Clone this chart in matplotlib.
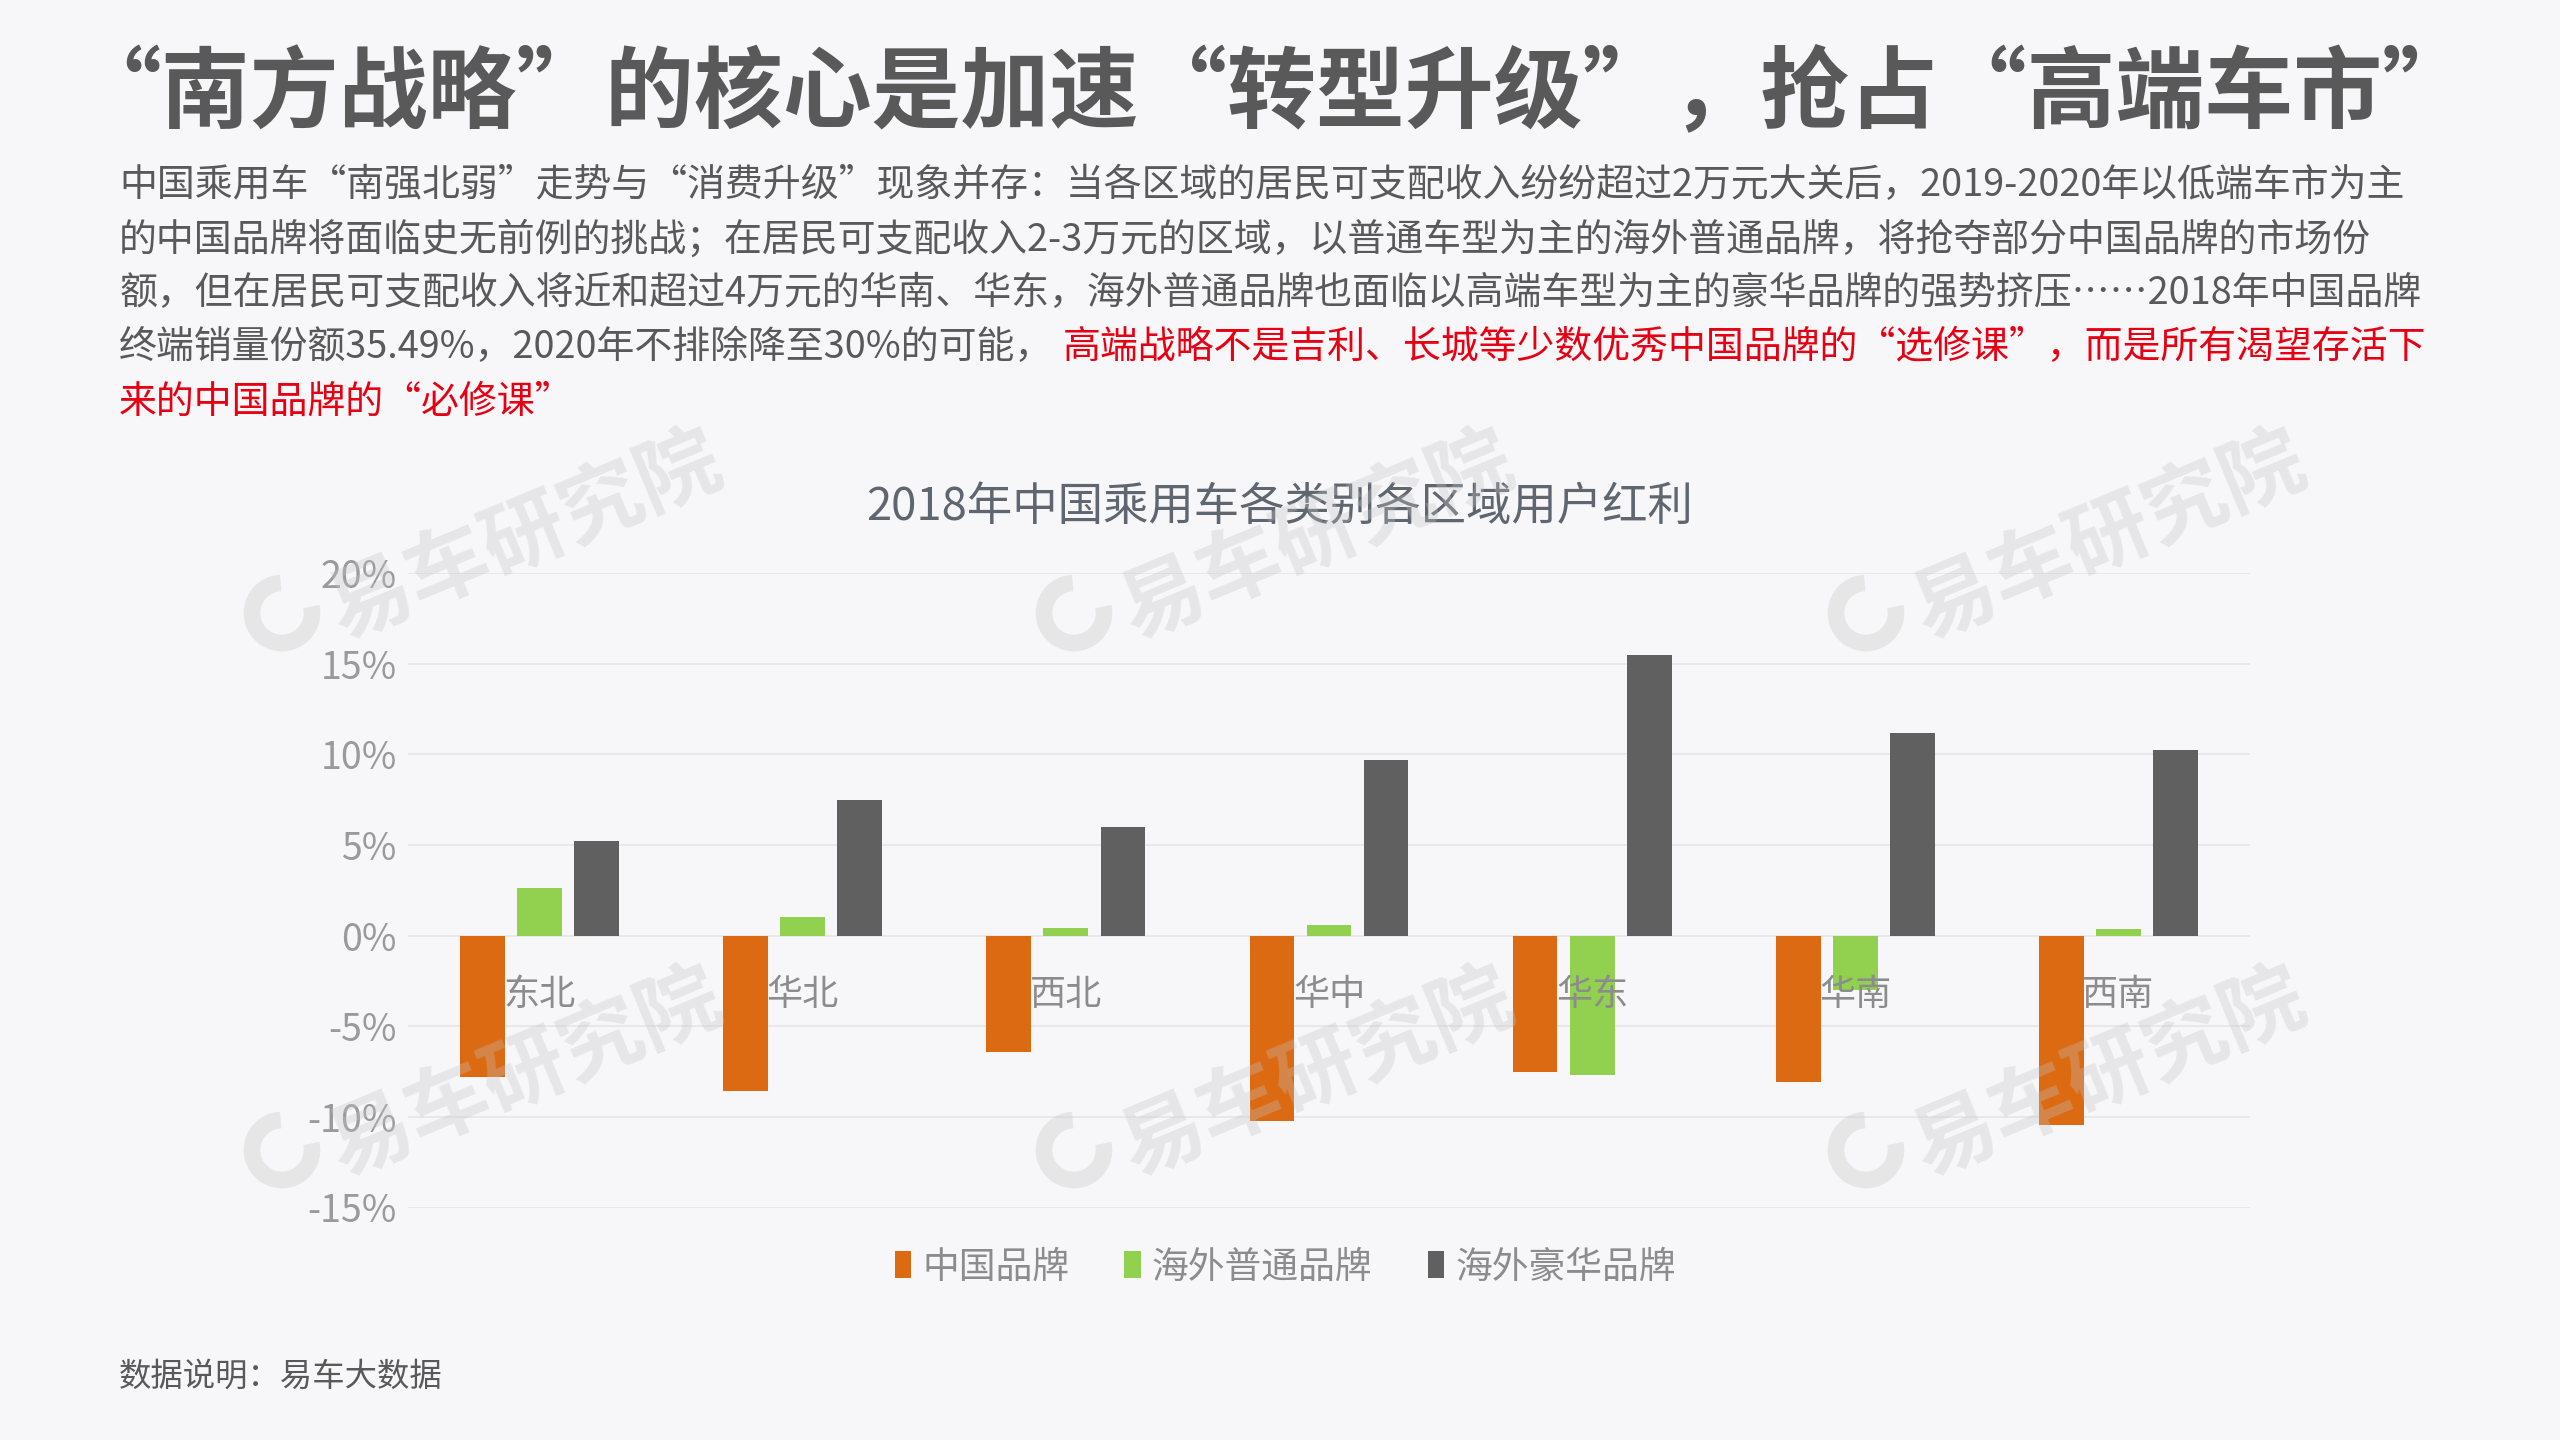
import numpy as np
import matplotlib
matplotlib.use("Agg")
import matplotlib.pyplot as plt
from matplotlib.patches import Arc
from matplotlib.ticker import FuncFormatter

plt.rcParams['font.family'] = ['Noto Sans CJK SC', 'DejaVu Sans']

# ---------------- data ----------------
regions = ['东北', '华北', '西北', '华中', '华东', '华南', '西南']
china_brand = [-7.8, -8.55, -6.4, -10.25, -7.55, -8.05, -10.45]
overseas_regular = [2.6, 1.05, 0.42, 0.58, -7.7, -3.0, 0.35]
overseas_luxury = [5.2, 7.5, 6.0, 9.7, 15.45, 11.2, 10.25]
series_names = ['中国品牌', '海外普通品牌', '海外豪华品牌']
y_ticks = [-15, -10, -5, 0, 5, 10, 15, 20]

title = '“南方战略”的核心是加速“转型升级”，抢占“高端车市”'
body_lines = [
    '中国乘用车“南强北弱”走势与“消费升级”现象并存：当各区域的居民可支配收入纷纷超过2万元大关后，2019-2020年以低端车市为主',
    '的中国品牌将面临史无前例的挑战；在居民可支配收入2-3万元的区域，以普通车型为主的海外普通品牌，将抢夺部分中国品牌的市场份',
    '额，但在居民可支配收入将近和超过4万元的华南、华东，海外普通品牌也面临以高端车型为主的豪华品牌的强势挤压……2018年中国品牌',
]
line4_gray = '终端销量份额35.49%，2020年不排除降至30%的可能，'
line4_red = '高端战略不是吉利、长城等少数优秀中国品牌的“选修课”，而是所有渴望存活下'
line5_red = '来的中国品牌的“必修课”'
chart_title = '2018年中国乘用车各类别各区域用户红利'
footer = '数据说明：易车大数据'
watermark = '易车研究院'

# ---------------- style ----------------
BG = '#f7f7f9'
C_ORANGE = '#dc6a12'
C_GREEN = '#92d050'
C_GRAY = '#606060'
TXT = '#595959'
RED = '#e60012'
W, H = 2560, 1440

fig = plt.figure(figsize=(W / 100, H / 100), dpi=100, facecolor=BG)

def fx(px):
    return px / W

def fy(py):
    return 1 - py / H

# headline
fig.text(fx(72), fy(94), title, fontsize=64, fontweight='bold', color=TXT,
         ha='left', va='center')

# body text
body_fs = 27.3
line_y = [186, 240, 294, 348, 402]
for txt, yy in zip(body_lines, line_y[:3]):
    fig.text(fx(119), fy(yy), txt, fontsize=body_fs, color=TXT, ha='left', va='center')
t4 = fig.text(fx(119), fy(line_y[3]), line4_gray, fontsize=body_fs, color=TXT,
              ha='left', va='center')
renderer = fig.canvas.get_renderer()
bb = t4.get_window_extent(renderer=renderer)
fig.text((bb.x1 + 10) / W, fy(line_y[3]), line4_red, fontsize=body_fs, color=RED,
         ha='left', va='center')
fig.text(fx(119), fy(line_y[4]), line5_red, fontsize=body_fs, color=RED,
         ha='left', va='center')

# footer
fig.text(fx(119), fy(1377), footer, fontsize=23.3, color=TXT, ha='left', va='center')

# chart title
fig.text(0.5, fy(507), chart_title, fontsize=32.7, color='#5f6670', ha='center', va='center')

# ---------------- chart ----------------
left, right, top, bottom = 408, 2250, 573, 1207.5
ax = fig.add_axes([fx(left), fy(bottom), (right - left) / W, (bottom - top) / H])
ax.set_facecolor('none')

x = np.arange(len(regions))
bw = 0.17
step = 0.217
series = [china_brand, overseas_regular, overseas_luxury]
colors = [C_ORANGE, C_GREEN, C_GRAY]
for i, (vals, col, name) in enumerate(zip(series, colors, series_names)):
    ax.bar(x + (i - 1) * step, vals, width=bw, color=col, label=name, zorder=2,
           edgecolor='none')

ax.set_ylim(y_ticks[0], y_ticks[-1])
ax.set_xlim(-0.5, len(regions) - 0.5)
ax.set_yticks(y_ticks)
ax.yaxis.set_major_formatter(FuncFormatter(lambda v, p: f'{int(v)}%'))
ax.yaxis.grid(True, color='#e6e6e8', linewidth=1.2)
ax.set_axisbelow(True)
for s in ['left', 'right', 'top']:
    ax.spines[s].set_visible(False)
ax.spines['bottom'].set_position(('data', 0))
ax.spines['bottom'].set_color('none')
ax.set_xticks(x)
ax.set_xticklabels(regions)
ax.tick_params(axis='x', length=0, pad=30, labelsize=26, labelcolor='#8c8c8c')
ax.tick_params(axis='y', length=0, pad=8, labelsize=27, labelcolor='#9a9a9a')
ax.xaxis.set_zorder(5)

# legend
handles, labels = ax.get_legend_handles_labels()
leg = fig.legend(handles, labels, loc='center', bbox_to_anchor=(0.502, fy(1267)), ncol=3,
                 frameon=False, fontsize=26.5, handlelength=0.45, handleheight=0.75,
                 handletextpad=0.3, columnspacing=1.5, labelcolor='#8c8c8c')

# watermarks
wm_color = '#c4c4c4'
for lx in [282, 1074, 1866]:
    for ly in [613, 1150]:
        fig.text(fx(lx + 243), fy(ly - 75), watermark, fontsize=60, fontweight='bold',
                 color=wm_color, alpha=0.32, rotation=22.5, rotation_mode='anchor',
                 ha='center', va='center', zorder=20)
        arc = Arc((lx / 100, (H - ly) / 100), 0.6, 0.6, angle=22.5, theta1=70, theta2=350,
                  transform=fig.dpi_scale_trans, color=wm_color, alpha=0.32, linewidth=12,
                  zorder=20)
        fig.add_artist(arc)

fig.savefig('out.png', dpi=100, facecolor=BG)
